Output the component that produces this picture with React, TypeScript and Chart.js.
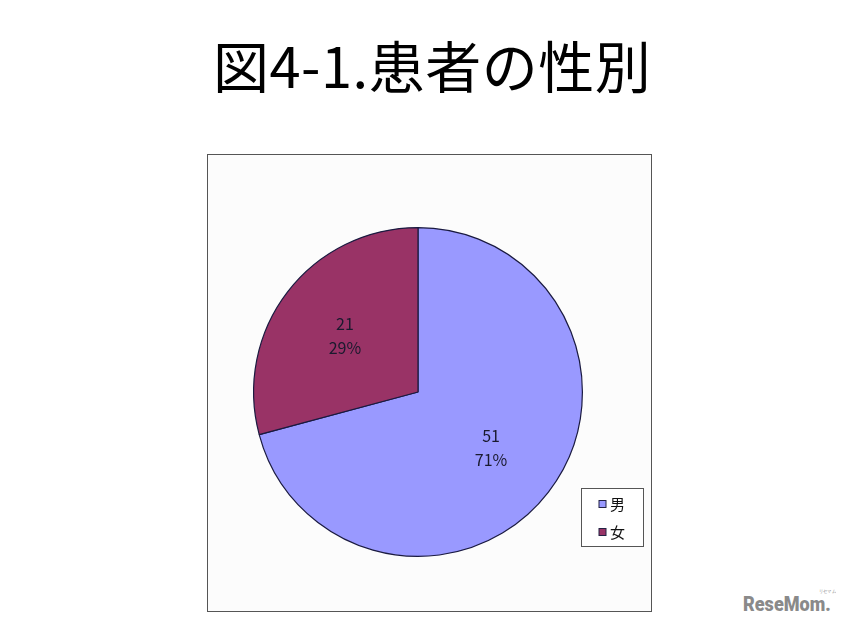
import React, { useEffect, useRef } from "react";
import { Chart, registerables } from "chart.js";

Chart.register(...registerables);

const categories = ["男", "女"];
const values = [51, 21];
const colors = ["#9999ff", "#993366"];
const titleText = "図4-1.患者の性別";

const pieLabels = {
  id: "pieLabels",
  afterDatasetsDraw(chart: any) {
    const ctx = chart.ctx;
    const meta = chart.getDatasetMeta(0);
    const data = chart.data.datasets[0].data as number[];
    const total = data.reduce((a, b) => a + b, 0);
    ctx.save();
    ctx.font = '16px "Noto Sans CJK JP"';
    ctx.fillStyle = "#1a1a2e";
    ctx.textAlign = "center";
    ctx.textBaseline = "middle";
    meta.data.forEach((arc: any, i: number) => {
      const p = arc.getProps(["x", "y", "startAngle", "endAngle", "outerRadius"], true);
      const mid = (p.startAngle + p.endAngle) / 2;
      const r = p.outerRadius * 0.56;
      const x = p.x + Math.cos(mid) * r;
      const y = p.y + Math.sin(mid) * r;
      ctx.fillText(String(data[i]), x, y - 12);
      ctx.fillText(Math.round((data[i] / total) * 100) + "%", x, y + 12);
    });
    ctx.restore();
  },
};

const boxLegend = {
  id: "boxLegend",
  afterDraw(chart: any) {
    const ctx = chart.ctx;
    const labels = chart.data.labels as string[];
    const bg = chart.data.datasets[0].backgroundColor as string[];
    const bx = 373, by = 333, bw = 62, bh = 58;
    ctx.save();
    ctx.fillStyle = "#ffffff";
    ctx.fillRect(bx, by, bw, bh);
    ctx.strokeStyle = "#555555";
    ctx.lineWidth = 1;
    ctx.strokeRect(bx + 0.5, by + 0.5, bw, bh);
    ctx.font = '15px "Noto Sans CJK JP"';
    ctx.textBaseline = "middle";
    ctx.textAlign = "left";
    labels.forEach((lab, i) => {
      const cy = by + 16 + i * 28;
      ctx.fillStyle = bg[i];
      ctx.fillRect(bx + 18, cy - 3.5, 7, 7);
      ctx.strokeStyle = "#222244";
      ctx.strokeRect(bx + 18, cy - 3.5, 7, 7);
      ctx.fillStyle = "#111111";
      ctx.fillText(lab, bx + 29, cy);
    });
    ctx.restore();
  },
};

export default function App() {
  const ref = useRef<HTMLCanvasElement>(null);
  useEffect(() => {
    if (!ref.current) return;
    const chart = new Chart(ref.current, {
      type: "pie",
      data: {
        labels: categories,
        datasets: [
          {
            data: values,
            backgroundColor: colors,
            borderColor: "#1a1a40",
            borderWidth: 1.2,
          },
        ],
      },
      options: {
        animation: false,
        responsive: true,
        maintainAspectRatio: false,
        layout: { padding: { left: 45, right: 68, top: 72, bottom: 54 } },
        plugins: {
          legend: { display: false },
          tooltip: { enabled: false },
          title: { display: false },
        },
      },
      plugins: [pieLabels, boxLegend],
    });
    return () => chart.destroy();
  }, []);

  return (
    <div style={{ position: "relative", width: 836, height: 614, background: "#ffffff" }}>
      <div
        style={{
          position: "absolute",
          left: 205,
          top: 28,
          fontFamily: '"Noto Sans CJK JP"',
          fontSize: 56,
          letterSpacing: 0.5,
          lineHeight: 1,
          whiteSpace: "nowrap",
          color: "#000",
        }}
      >
        {titleText}
      </div>
      <div
        style={{
          position: "absolute",
          left: 199,
          top: 146,
          width: 445,
          height: 458,
          border: "1px solid #555",
          boxSizing: "border-box",
          background: "#fcfcfc",
        }}
      >
        <div style={{ position: "relative", width: 443, height: 456 }}>
          <canvas ref={ref} />
        </div>
      </div>
      <div
        style={{
          position: "absolute",
          left: 735,
          top: 586,
          fontFamily: "Roboto",
          fontWeight: 900,
          fontSize: 21,
          color: "#8a8a8a",
          whiteSpace: "nowrap",
          transform: "scaleX(0.86)",
          transformOrigin: "left top",
          lineHeight: 1,
        }}
      >
        ReseMom.
        <span
          style={{
            position: "absolute",
            left: 88,
            top: -5,
            fontSize: 5,
            fontWeight: 400,
          }}
        >
          リセマム
        </span>
      </div>
    </div>
  );
}
